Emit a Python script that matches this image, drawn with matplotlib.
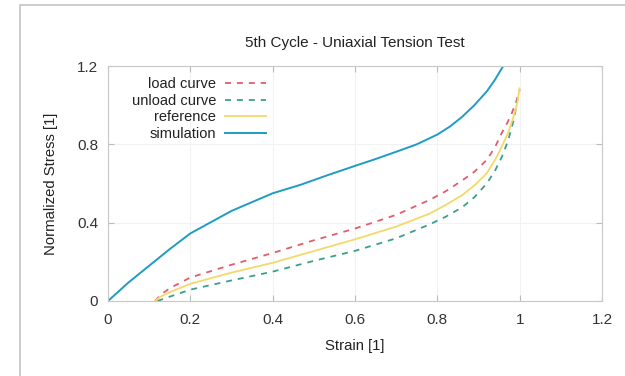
import matplotlib
matplotlib.use("Agg")
import matplotlib.pyplot as plt
from matplotlib.patches import Rectangle

plt.rcParams['font.family'] = ['Liberation Sans', 'DejaVu Sans']

# data
sim_x = [0, 0.05, 0.1, 0.15, 0.2, 0.3, 0.4, 0.47, 0.53, 0.6, 0.65, 0.7, 0.75, 0.8, 0.83, 0.86, 0.89, 0.92, 0.94, 0.96]
sim_y = [0, 0.095, 0.18, 0.265, 0.345, 0.46, 0.55, 0.595, 0.64, 0.69, 0.725, 0.762, 0.80, 0.85, 0.89, 0.94, 1.0, 1.07, 1.13, 1.2]

load_x = [0.114, 0.13, 0.15, 0.2, 0.3, 0.4, 0.5, 0.6, 0.7, 0.78, 0.82, 0.86, 0.89, 0.92, 0.94, 0.957, 0.97, 0.981, 0.992, 1.0]
load_y = [0, 0.035, 0.065, 0.12, 0.185, 0.245, 0.31, 0.37, 0.44, 0.515, 0.56, 0.615, 0.66, 0.72, 0.785, 0.86, 0.91, 0.96, 1.02, 1.08]

ref_x = [0.114, 0.13, 0.15, 0.2, 0.3, 0.4, 0.5, 0.6, 0.7, 0.78, 0.82, 0.86, 0.89, 0.92, 0.94, 0.957, 0.972, 0.985, 0.994, 1.0]
ref_y = [0, 0.025, 0.045, 0.088, 0.145, 0.195, 0.255, 0.315, 0.38, 0.445, 0.49, 0.54, 0.59, 0.652, 0.72, 0.79, 0.86, 0.94, 1.01, 1.086]

unload_x = [0.12, 0.15, 0.2, 0.3, 0.4, 0.5, 0.6, 0.7, 0.78, 0.82, 0.86, 0.89, 0.92, 0.94, 0.957, 0.972, 0.985, 0.995]
unload_y = [0, 0.022, 0.058, 0.105, 0.15, 0.205, 0.256, 0.32, 0.39, 0.43, 0.478, 0.53, 0.60, 0.665, 0.737, 0.82, 0.92, 1.03]

fig = plt.figure(figsize=(6.25, 3.76), dpi=100)
fig.patches.append(Rectangle((20/625, -0.05), 1.1, 1.05 - 5/376, transform=fig.transFigure,
                             fill=False, edgecolor='#c4c4c4', linewidth=1.2))
ax = fig.add_axes([108/625, 75/376, 494/625, 235/376])

ax.plot(load_x, load_y, color='#e25c6c', ls=(0, (3.3, 3.3)), lw=1.3, label='load curve')
ax.plot(unload_x, unload_y, color='#3a9f8c', ls=(0, (3.3, 3.3)), lw=1.3, label='unload curve')
ax.plot(ref_x, ref_y, color='#f3d86a', lw=1.3, label='reference')
ax.plot(sim_x, sim_y, color='#1f9cc4', lw=1.4, label='simulation')

ax.set_xlim(0, 1.2)
ax.set_ylim(0, 1.2)
ax.set_xticks([0, 0.2, 0.4, 0.6, 0.8, 1, 1.2])
ax.set_xticklabels(['0', '0.2', '0.4', '0.6', '0.8', '1', '1.2'])
ax.set_yticks([0, 0.4, 0.8, 1.2])
ax.set_yticklabels(['0', '0.4', '0.8', '1.2'])
ax.tick_params(direction='in', top=True, right=True, length=4, color='#bbbbbb',
               labelsize=11, labelcolor='#333333')
ax.tick_params(axis='x', pad=8.5)
ax.tick_params(axis='y', pad=7)
ax.grid(True, color='#f2f2f2', lw=0.8)
for s in ax.spines.values():
    s.set_color('#c8c8c8')

fig.text(355/625, 1 - 42.5/376, '5th Cycle - Uniaxial Tension Test', fontsize=11,
         color='#222222', ha='center', va='center')
ax.set_xlabel('Strain [1]', fontsize=10.7, color='#222222', labelpad=8.5)
ax.set_ylabel('Normalized Stress [1]', fontsize=10.7, color='#222222', labelpad=13.5)

leg = ax.legend(loc='upper left', bbox_to_anchor=(0.022, 1.007), frameon=False, markerfirst=False,
                fontsize=10.5, handlelength=2.8, handletextpad=0.6, labelspacing=0.17)
for t in leg.get_texts():
    t.set_ha('right')
    t.set_color('#222222')

plt.savefig('out.png', dpi=100)
